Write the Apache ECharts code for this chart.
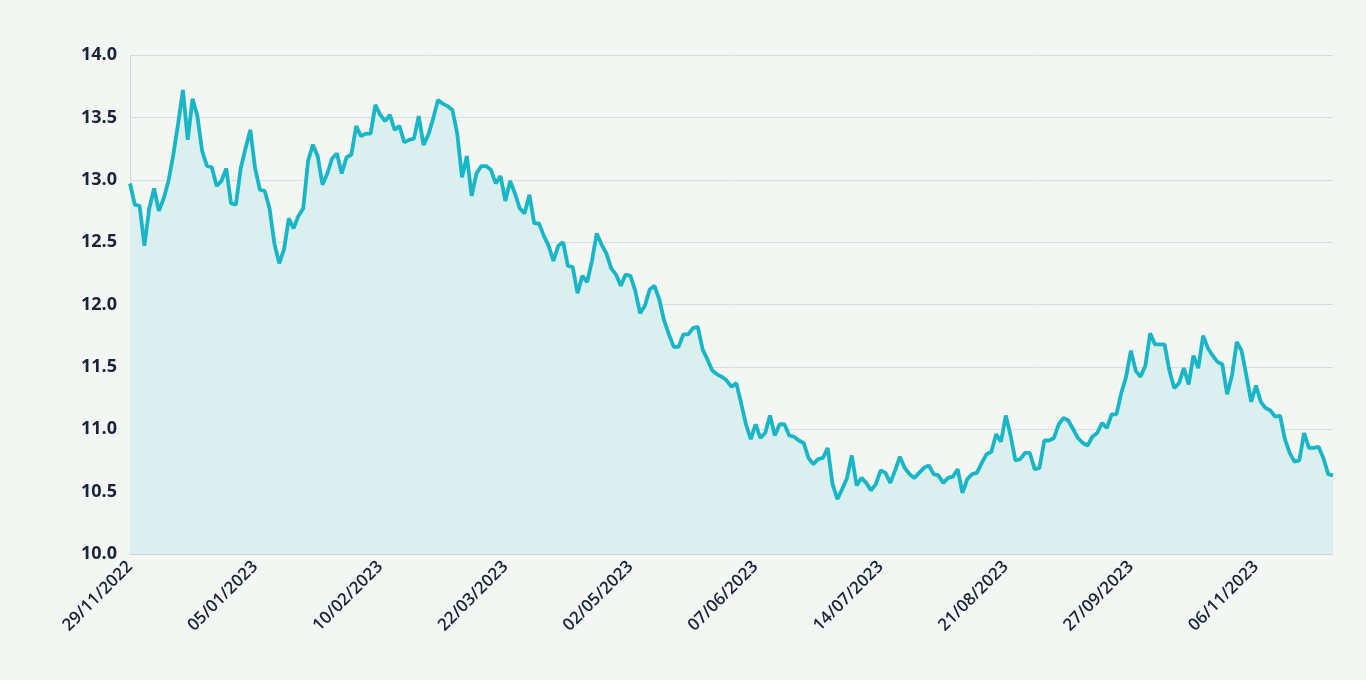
<!DOCTYPE html>
<html>
<head>
<meta charset="utf-8">
<script src="https://cdn.jsdelivr.net/npm/echarts@6/dist/echarts.min.js"></script>
<style>
html,body{margin:0;padding:0;background:#f4f6f4;}
#chart{width:1366px;height:680px;}
</style>
</head>
<body>
<div id="chart"></div>
<script>
// Trading days: weekdays from start to end, excluding market holidays
const startDate = '2022-11-29';
const endDate = '2023-11-29';
const holidays = ['2022-12-30','2023-02-20','2023-02-21','2023-04-07','2023-04-21','2023-05-01','2023-06-08','2023-09-07','2023-10-12','2023-11-02','2023-11-15'];

const values = [
12.97, 12.80, 12.79, 12.47, 12.77, 12.93, 12.75, 12.85, 12.99, 13.20,
13.45, 13.72, 13.32, 13.65, 13.51, 13.23, 13.11, 13.10, 12.95, 12.99,
13.09, 12.81, 12.80, 13.09, 13.25, 13.40, 13.09, 12.92, 12.91, 12.77,
12.49, 12.33, 12.44, 12.69, 12.61, 12.71, 12.77, 13.15, 13.28, 13.19,
12.96, 13.05, 13.17, 13.21, 13.05, 13.18, 13.20, 13.43, 13.35, 13.37,
13.37, 13.60, 13.52, 13.47, 13.52, 13.40, 13.43, 13.30, 13.32, 13.33,
13.51, 13.28, 13.36, 13.49, 13.64, 13.61, 13.59, 13.56, 13.37, 13.02,
13.19, 12.87, 13.05, 13.11, 13.11, 13.08, 12.97, 13.03, 12.83, 12.99,
12.89, 12.77, 12.73, 12.88, 12.65, 12.65, 12.55, 12.47, 12.35, 12.47,
12.50, 12.31, 12.30, 12.09, 12.23, 12.18, 12.35, 12.57, 12.48, 12.41,
12.29, 12.24, 12.15, 12.24, 12.23, 12.11, 11.93, 11.99, 12.12, 12.15,
12.04, 11.87, 11.76, 11.66, 11.66, 11.76, 11.76, 11.81, 11.82, 11.64,
11.56, 11.47, 11.44, 11.42, 11.39, 11.34, 11.37, 11.21, 11.04, 10.92,
11.04, 10.93, 10.97, 11.11, 10.95, 11.04, 11.04, 10.95, 10.94, 10.91,
10.89, 10.77, 10.72, 10.76, 10.77, 10.85, 10.56, 10.44, 10.52, 10.61,
10.79, 10.55, 10.61, 10.57, 10.51, 10.56, 10.67, 10.65, 10.57, 10.67,
10.78, 10.69, 10.64, 10.61, 10.65, 10.69, 10.71, 10.64, 10.63, 10.57,
10.61, 10.62, 10.68, 10.49, 10.60, 10.64, 10.65, 10.73, 10.80, 10.82,
10.96, 10.90, 11.11, 10.95, 10.75, 10.76, 10.81, 10.81, 10.68, 10.69,
10.91, 10.91, 10.93, 11.04, 11.09, 11.07, 11.00, 10.93, 10.89, 10.87,
10.94, 10.97, 11.05, 11.01, 11.12, 11.12, 11.29, 11.42, 11.63, 11.47,
11.42, 11.51, 11.77, 11.68, 11.68, 11.68, 11.47, 11.33, 11.37, 11.49,
11.36, 11.59, 11.49, 11.75, 11.65, 11.59, 11.54, 11.52, 11.28, 11.43,
11.70, 11.63, 11.43, 11.22, 11.35, 11.22, 11.17, 11.15, 11.10, 11.11,
10.92, 10.81, 10.74, 10.75, 10.97, 10.85, 10.85, 10.86, 10.77, 10.64,
10.63
];

const yMin = 10, yMax = 14, yStep = 0.5;

function pad(n){return (n<10?'0':'')+n;}
function buildDates(){
  const out = [];
  const d = new Date(startDate + 'T12:00:00Z');
  const end = new Date(endDate + 'T12:00:00Z');
  while (d <= end) {
    const iso = d.getUTCFullYear() + '-' + pad(d.getUTCMonth()+1) + '-' + pad(d.getUTCDate());
    const wd = d.getUTCDay();
    if (wd !== 0 && wd !== 6 && holidays.indexOf(iso) < 0) {
      out.push(pad(d.getUTCDate()) + '/' + pad(d.getUTCMonth()+1) + '/' + d.getUTCFullYear());
    }
    d.setUTCDate(d.getUTCDate()+1);
  }
  return out;
}
const dates = buildDates().slice(0, values.length);

const chart = echarts.init(document.getElementById('chart'));
chart.setOption({
  backgroundColor: '#f4f6f4',
  animation: false,
  grid: {left: 130, right: 33, top: 55, bottom: 126, containLabel: false},
  xAxis: {
    type: 'category',
    data: dates,
    boundaryGap: false,
    axisLine: {show: true, lineStyle: {color: '#cfd7d6', width: 1}},
    axisTick: {show: false},
    axisLabel: {
      interval: 25,
      rotate: 45,
      color: '#1b2539',
      fontFamily: 'Open Sans',
      fontWeight: 600,
      fontSize: 17,
      margin: 10
    },
    splitLine: {show: false}
  },
  yAxis: {
    type: 'value',
    min: yMin, max: yMax, interval: yStep,
    axisLine: {show: true, lineStyle: {color: '#cfd7d6', width: 1}},
    axisTick: {show: false},
    axisLabel: {
      color: '#1b2539',
      fontFamily: 'Open Sans',
      fontWeight: 700,
      fontSize: 18,
      margin: 13,
      formatter: v => v.toFixed(1)
    },
    splitLine: {show: true, lineStyle: {color: '#d8dedd', width: 1}}
  },
  series: [{
    type: 'line',
    data: values,
    symbol: 'none',
    smooth: false,
    lineStyle: {color: '#18b6c6', width: 3.8},
    areaStyle: {color: '#dbefee', opacity: 1}
  }]
});
</script>
</body>
</html>
